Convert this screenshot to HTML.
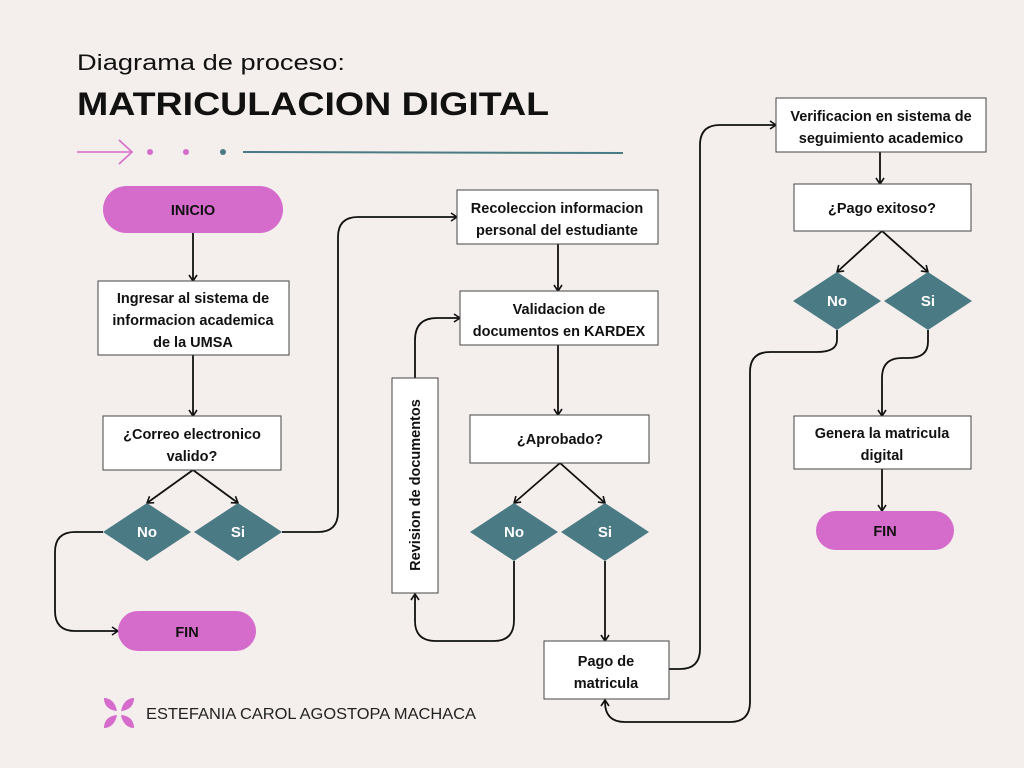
<!DOCTYPE html>
<html><head><meta charset="utf-8"><style>
html,body{margin:0;padding:0;background:#f4efec;}
svg{display:block}
text{font-family:"Liberation Sans",sans-serif;}
.b{font-weight:bold;font-size:14.5px;fill:#111;}
.w{font-weight:bold;font-size:15px;fill:#fff;}
</style></head><body>
<svg width="1024" height="768" viewBox="0 0 1024 768">
<defs>
<marker id="a" viewBox="0 0 10 10" refX="9" refY="5" markerWidth="10" markerHeight="10" orient="auto" markerUnits="userSpaceOnUse">
<path d="M3,1 L9,5 L3,9" fill="none" stroke="#111" stroke-width="1.6"/>
</marker>
</defs>
<rect width="1024" height="768" fill="#f4efec"/>
<text x="77" y="70" font-size="22" fill="#111" textLength="268" lengthAdjust="spacingAndGlyphs">Diagrama de proceso:</text>
<text x="77" y="115" font-size="32" font-weight="bold" fill="#111" textLength="472" lengthAdjust="spacingAndGlyphs">MATRICULACION DIGITAL</text>
<g stroke="#d56bcb" stroke-width="1.6" fill="none"><path d="M77,152 H132 M119,140 L132,152 L119,164"/></g>
<circle cx="150" cy="152" r="3" fill="#d56bcb"/><circle cx="186" cy="152" r="3" fill="#d56bcb"/><circle cx="223" cy="152" r="3" fill="#4a7a84"/>
<line x1="243" y1="152" x2="623" y2="153" stroke="#4a7a84" stroke-width="2"/>

<g stroke="#111" stroke-width="1.8" fill="none" marker-end="url(#a)">
<path d="M193,233 V281"/>
<path d="M193,355 V416"/>
<path d="M193,470 L147,503"/><path d="M193,470 L238,503"/>
<path d="M103,532 H75 Q55,532 55,552 V611 Q55,631 75,631 H118"/>
<path d="M282,532 H318 Q338,532 338,512 V237 Q338,217 358,217 H457"/>
<path d="M558,244 V291"/>
<path d="M558,345 V415"/>
<path d="M560,463 L514,503"/><path d="M560,463 L605,503"/>
<path d="M514,561 V620 Q514,641 494,641 H436 Q415,641 415,621 V594"/>
<path d="M415,378 V340 Q415,318 437,318 H460"/>
<path d="M605,561 V641"/>
<path d="M669,669 H680 Q700,669 700,649 V145 Q700,125 720,125 H776"/>
<path d="M880,152 V184"/>
<path d="M882,231 L837,272"/><path d="M882,231 L928,272"/>
<path d="M837,330 V340 Q837,352 817,352 H770 Q750,352 750,372 V702 Q750,722 730,722 H625 Q605,722 605,702 V700"/>
<path d="M928,330 V342 Q928,358 908,358 H902 Q882,358 882,378 V416"/>
<path d="M882,469 V511"/>
</g>

<g fill="#d56bcb">
<rect x="103" y="186" width="180" height="47" rx="23.5"/>
<rect x="118" y="611" width="138" height="40" rx="20"/>
<rect x="816" y="511" width="138" height="39" rx="19.5"/>
</g>
<text class="b" x="193" y="215" text-anchor="middle">INICIO</text>
<text class="b" x="187" y="637" text-anchor="middle">FIN</text>
<text class="b" x="885" y="536" text-anchor="middle">FIN</text>

<g fill="#fff" stroke="#444" stroke-width="1">
<rect x="98" y="281" width="191" height="74"/>
<rect x="103" y="416" width="178" height="54"/>
<rect x="457" y="190" width="201" height="54"/>
<rect x="460" y="291" width="198" height="54"/>
<rect x="392" y="378" width="46" height="215"/>
<rect x="470" y="415" width="179" height="48"/>
<rect x="544" y="641" width="125" height="58"/>
<rect x="776" y="98" width="210" height="54"/>
<rect x="794" y="184" width="177" height="47"/>
<rect x="794" y="416" width="177" height="53"/>
</g>
<g class="b" text-anchor="middle">
<text class="b" x="193" y="303">Ingresar al sistema de</text>
<text class="b" x="193" y="325">informacion academica</text>
<text class="b" x="193" y="347">de la UMSA</text>
<text class="b" x="192" y="439">¿Correo electronico</text>
<text class="b" x="192" y="461">valido?</text>
<text class="b" x="557" y="213">Recoleccion informacion</text>
<text class="b" x="557" y="235">personal del estudiante</text>
<text class="b" x="559" y="314">Validacion de</text>
<text class="b" x="559" y="336">documentos en KARDEX</text>
<text class="b" x="560" y="444">¿Aprobado?</text>
<text class="b" x="606" y="666">Pago de</text>
<text class="b" x="606" y="688">matricula</text>
<text class="b" x="881" y="121">Verificacion en sistema de</text>
<text class="b" x="881" y="143">seguimiento academico</text>
<text class="b" x="882" y="213">¿Pago exitoso?</text>
<text class="b" x="882" y="438">Genera la matricula</text>
<text class="b" x="882" y="460">digital</text>
<text class="b" x="0" y="0" transform="translate(420,485) rotate(-90)">Revision de documentos</text>
</g>

<g fill="#4a7a84">
<path d="M147,503 L191,532 L147,561 L103,532Z"/>
<path d="M238,503 L282,532 L238,561 L194,532Z"/>
<path d="M514,503 L558,532 L514,561 L470,532Z"/>
<path d="M605,503 L649,532 L605,561 L561,532Z"/>
<path d="M837,272 L881,301 L837,330 L793,301Z"/>
<path d="M928,272 L972,301 L928,330 L884,301Z"/>
</g>
<g class="w" text-anchor="middle">
<text class="w" x="147" y="537">No</text><text class="w" x="238" y="537">Si</text>
<text class="w" x="514" y="537">No</text><text class="w" x="605" y="537">Si</text>
<text class="w" x="837" y="306">No</text><text class="w" x="928" y="306">Si</text>
</g>

<g fill="#d56bcb" transform="translate(119,713)">
<path d="M-2,-2 C-4,-12 -10,-15 -15,-15 C-15,-9 -12,-3 -2,-2Z"/>
<path d="M2,-2 C4,-12 10,-15 15,-15 C15,-9 12,-3 2,-2Z"/>
<path d="M-2,2 C-4,12 -10,15 -15,15 C-15,9 -12,3 -2,2Z"/>
<path d="M2,2 C4,12 10,15 15,15 C15,9 12,3 2,2Z"/>
</g>
<text x="146" y="719" font-size="16" fill="#222" textLength="330" lengthAdjust="spacingAndGlyphs">ESTEFANIA CAROL AGOSTOPA MACHACA</text>
</svg>
</body></html>
